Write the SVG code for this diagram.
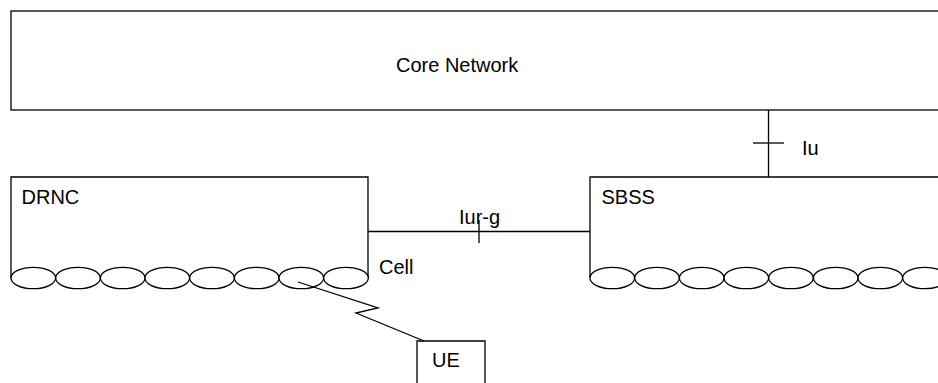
<svg xmlns="http://www.w3.org/2000/svg" width="938" height="383" viewBox="0 0 938 383">
<style>
.ln{fill:none;stroke:#000;stroke-width:1.3}
.el{fill:#fff;stroke:#000;stroke-width:1.3}
.t{font-family:"Liberation Sans",Arial,sans-serif;font-size:20px;fill:#000}
</style>
<defs>
<ellipse id="cell" cx="0" cy="0" rx="22.3" ry="10.7" class="el"/>
</defs>
<rect width="938" height="383" fill="#fff"/>
<g id="core">
<rect class="ln" x="11" y="11" width="940" height="99"/>
<text class="t" x="396" y="72">Core Network</text>
</g>
<g id="drnc">
<polyline class="ln" points="11,278 11,177 368,177 368,278"/>
<use href="#cell" x="33.3" y="278"/>
<use href="#cell" x="78" y="278"/>
<use href="#cell" x="122.7" y="278"/>
<use href="#cell" x="167.3" y="278"/>
<use href="#cell" x="212" y="278"/>
<use href="#cell" x="256.7" y="278"/>
<use href="#cell" x="301.3" y="278"/>
<use href="#cell" x="346" y="278"/>
<text class="t" x="21.5" y="204">DRNC</text>
</g>
<g id="sbss">
<polyline class="ln" points="590,278 590,177 945,177"/>
<use href="#cell" x="612.3" y="278"/>
<use href="#cell" x="657" y="278"/>
<use href="#cell" x="701.7" y="278"/>
<use href="#cell" x="746.3" y="278"/>
<use href="#cell" x="791" y="278"/>
<use href="#cell" x="835.7" y="278"/>
<use href="#cell" x="880.3" y="278"/>
<use href="#cell" x="925" y="278"/>
<text class="t" x="601.5" y="204">SBSS</text>
</g>
<g id="ue">
<polyline class="ln" points="417,390 417,341 485,341 485,390"/>
<text class="t" x="432" y="367">UE</text>
</g>
<g id="connectors">
<line class="ln" x1="768.5" y1="110" x2="768.5" y2="177"/>
<line class="ln" x1="753" y1="143" x2="784" y2="143"/>
<text class="t" x="802" y="155">Iu</text>
<line class="ln" x1="368" y1="231.5" x2="590" y2="231.5"/>
<line class="ln" x1="479" y1="220" x2="479" y2="243"/>
<text class="t" x="459" y="224">Iur-g</text>
<polyline class="ln" points="298,282 378,308 356,313 424,341"/>
<text class="t" x="379" y="274">Cell</text>
</g>
</svg>
